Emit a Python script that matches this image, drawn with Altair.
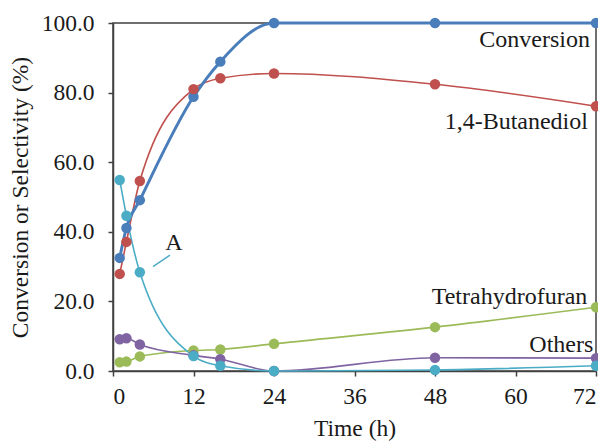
import altair as alt
import pandas as pd

# ---- data ----
time_h = [1, 2, 4, 12, 16, 24, 48, 72]
conversion = [32.5, 41.1, 49.1, 78.8, 88.9, 100.0, 100.0, 100.0]
butanediol = [27.9, 37.1, 54.6, 81.0, 84.1, 85.5, 82.4, 76.1]
thf = [2.5, 2.7, 4.2, 5.9, 6.2, 7.8, 12.6, 18.3]
others = [9.1, 9.4, 7.6, 4.5, 3.4, 0.0, 3.8, 3.7]
compound_a = [54.9, 44.6, 28.4, 4.3, 1.5, 0.0, 0.3, 1.5]

series_names = ["Conversion", "1,4-Butanediol", "Tetrahydrofuran", "Others", "A"]
series_values = [conversion, butanediol, thf, others, compound_a]
series_colors = ["#4A7EBB", "#C0504D", "#9BBB59", "#8064A2", "#4BACC6"]

x_ticks = [0, 12, 24, 36, 48, 60, 72]
y_ticks = [0, 20, 40, 60, 80, 100]

# curve labels (data units)
label_text = ["Conversion", "1,4-Butanediol", "Tetrahydrofuran", "Others"]
label_t = [71.1, 70.8, 70.7, 71.6]
label_v = [95.1, 71.6, 21.3, 7.5]
a_label = {"text": "A", "t": 9.1, "v": 36.8}
a_leader = {"t": 5.96, "v": 30.0, "t2": 8.5, "v2": 33.3}

FONT = "Times New Roman, Liberation Serif, serif"

rows = []
for name, vals in zip(series_names, series_values):
    for t, v in zip(time_h, vals):
        rows.append({"series": name, "t": t, "v": v})
df = pd.DataFrame(rows)

color = alt.Color("series:N", scale=alt.Scale(domain=series_names, range=series_colors), legend=None)
x = alt.X("t:Q", scale=alt.Scale(domain=[0, 72], nice=False),
          axis=alt.Axis(values=x_ticks, title="Time (h)", grid=False, labelPadding=8,
                        titlePadding=9, tickSize=5))
y = alt.Y("v:Q", scale=alt.Scale(domain=[0, 100], nice=False),
          axis=alt.Axis(values=y_ticks, format=".1f", title="Conversion or Selectivity (%)",
                        grid=False, labelPadding=14, titlePadding=9, tickSize=5))

base = alt.Chart(df)
line_thin = base.transform_filter(alt.datum.series != "Conversion").mark_line(
    interpolate="monotone", strokeWidth=1.6).encode(x=x, y=y, color=color, detail="series:N")
line_conv = base.transform_filter(alt.datum.series == "Conversion").mark_line(
    interpolate="monotone", strokeWidth=3).encode(x=x, y=y, color=color)
points = base.mark_circle(size=110, opacity=1).encode(x=x, y=y, color=color)

lab_df = pd.DataFrame({"text": label_text, "t": label_t, "v": label_v})
labels = alt.Chart(lab_df).mark_text(align="right", baseline="middle", font=FONT, fontSize=24,
                                      color="#1a1a1a").encode(x="t:Q", y="v:Q", text="text:N")
a_df = pd.DataFrame([a_label])
a_text = alt.Chart(a_df).mark_text(align="center", baseline="middle", font=FONT, fontSize=24,
                                   color="#1a1a1a").encode(x="t:Q", y="v:Q", text="text:N")
lead_df = pd.DataFrame([a_leader])
a_line = alt.Chart(lead_df).mark_rule(color="#4BACC6", strokeWidth=1.5).encode(
    x="t:Q", y="v:Q", x2="t2:Q", y2="v2:Q")

chart = alt.layer(line_thin, line_conv, points, a_line, labels, a_text).properties(
    width=483, height=348,
    autosize=alt.AutoSizeParams(type="none"),
    padding={"left": 105, "top": 15, "right": 2, "bottom": 70},
).configure_view(stroke="#404040", strokeWidth=1.5).configure_axis(
    labelFont=FONT, titleFont=FONT, labelFontSize=23.5, titleFontSize=23.5,
    labelColor="#1a1a1a", titleColor="#1a1a1a", titleFontWeight="normal",
    domainColor="#404040", tickColor="#404040", domainWidth=1.5, tickWidth=1.5,
)

chart.save("out.html", embed_options={"renderer": "svg", "actions": False})
